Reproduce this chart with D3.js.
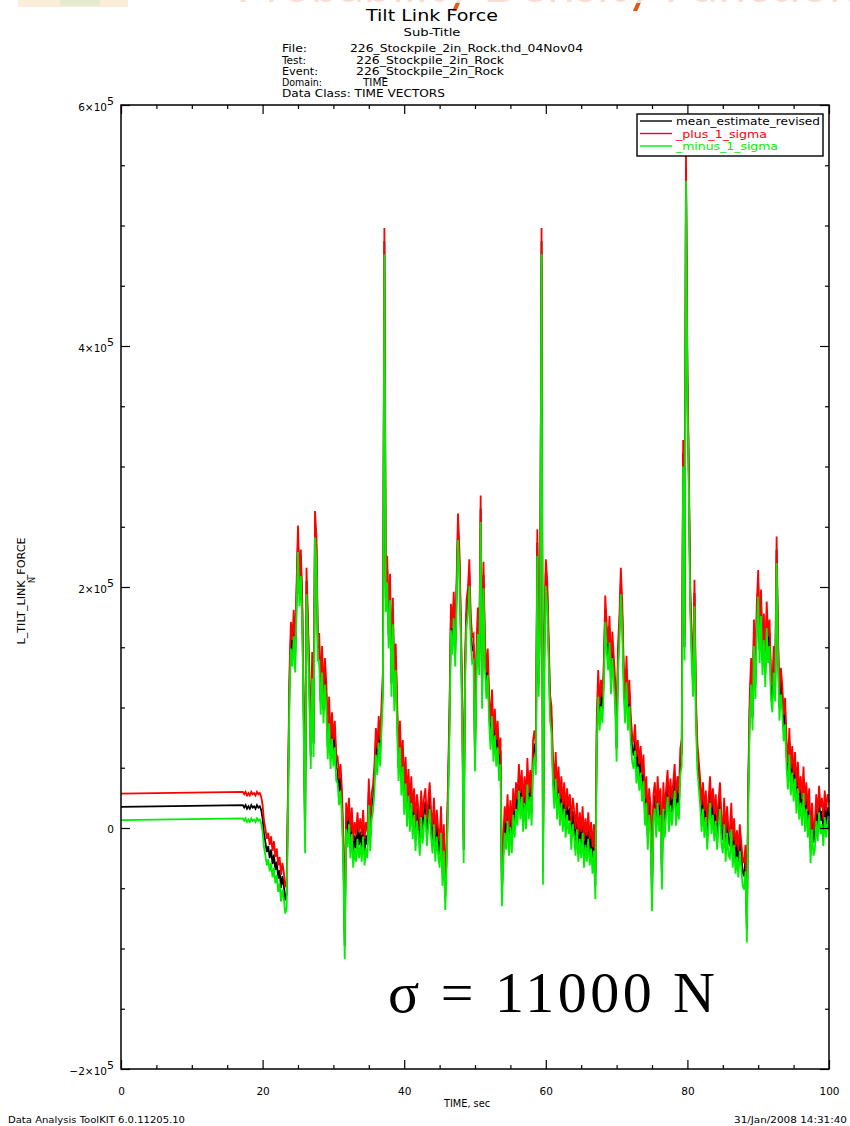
<!DOCTYPE html>
<html>
<head>
<meta charset="utf-8">
<script src="https://cdn.jsdelivr.net/npm/d3@7"></script>
<style>
  body { margin: 0; background: #fff; }
  svg { display: block; }
  text { font-family: "DejaVu Sans", "Liberation Sans", sans-serif; fill: #000; }
</style>
</head>
<body>
<svg id="chart" width="850" height="1126"></svg>
<script>
// ---- data -------------------------------------------------------------
// steady pre-load section before the tilt cycles begin
const quietSpan = [0, 17.2];          // seconds
const quietLevelKN = 17.5;            // kN
// sampled section, one value every 0.2 s from 17.2 s to 100 s (kN)
const sampleStart = 17.2;
const sampleStep = 0.2;
const meanForceKN = [
  19, 17, 19, 16,
  18, 16, 19, 17, 18,     16, 19, 17, 18, 15,
  8, -5, -12, -20, -15,   -25, -18, -30, -22, -35,
  -28, -42, -35, -50, -40, -48, -60, -55, 30, 120,
  160, 145, 170, 140, 192, 240, 195, 220, 180, 95,
  -10, 205, 165, 120, 60, 135, 70, 252, 232, 150,
  150, 105, 140, 98, 130, 110, 68, 98, 60, 85,
  62, 78, 50, 48, 30,     42, 22, -18, -98, 10,
  -5, 14, -14, 6, -22,    -6, -17, 2, -14, -3,
  -17, 4, -20, -6, -14,   30, -8, 18, 25, 42,
  72, 55, 82, 62, 92,     120, 487, 190, 215, 160,
  200, 120, 180, 108, 142, 95, 50, 78, 38, 62,
  22, 48, 12, 38, 8,      32, 2, 22, -8, 17,
  6, -12, 20, -2, 14,     22, -4, 12, 27, 3,
  -10, 14, -17, 4, -12,   -22, 7, -37, -8, -57,
  -20, 30, 90, 175, 155,  185, 145, 195, 250, 220,
  165, 95, -18, 130, 178, 188, 212, 165, 148, 150,
  58, 135, 172, 138, 265, 110, 210, 145, 118, 138,
  98, 76, 104, 66, 88,    62, 78, 50, 64, -54,
  -18, 7, -7, 17, -12,    12, -10, 22, 3, 27,
  13, 42, 18, 37, 8,      32, 10, 47, 18, 37,
  13, 62, 70, 55, 237,    120, 180, 487, -36, 150,
  212, 195, 150, 100, 90, 48, 27, 52, 18, 40,
  13, 32, 8, 27, 3,       22, 6, 17, -7, 14,
  4, -12, 10, -17, 2,     -14, 7, -22, -3, -17,
  2, -20, -6, -27, -8,    -48, 80, 120, 92, 112,
  98, 128, 182, 158, 142, 165, 122, 152, 132, 112,
  66, 140, 165, 205, 175, 125, 98, 132, 92, 112,
  82, 66, 60, 75, 48,     62, 42, 57, 33, 50,
  13, 32, -7, 22, 8,      -58, 17, 27, 3, 32,
  8, 22, -40, 27, 3,      22, 37, 8, 30, 13,
  27, 42, 13, 32, 18,     55, 63, 311, 150, 548,
  372, 290, 190, 150, 120, 195, 99, 60, 45, 30,
  8, 27, 3, 20, -7,       14, 32, 6, 22, 0,
  17, -7, 12, 27, -2,     -10, 14, -17, 7, -12,
  -14, 10, -22, -3, -27,  -13, -30, -8, -22, -37,
  -40, -25, -84, 30, 98,  130, 92, 162, 118, 175,
  203, 148, 187, 138, 167, 128, 177, 148, 162, 118,
  107, 140, 116, 231, 150, 100, 122, 108, 83, 97,
  62, 43, 72, 38, 57,     33, 52, 23, 44, 18,
  32, 13, 40, 8, 27,      3, 22, -18, 10, -12,
  -7, 17, 0, 24, 6,       14, -4, 20, 3, 17,
  10
];
const sigmaN = 11000;                 // one standard deviation, N

const seriesNames = ["mean_estimate_revised", "_plus_1_sigma", "_minus_1_sigma"];
const seriesColors = ["#000000", "#ff0000", "#00ee00"];
const xDomain = [0, 100];
const yDomain = [-200000, 600000];
const xMajorTicks = [0, 20, 40, 60, 80, 100];
const xTickLabels = ["0", "20", "40", "60", "80", "100"];
const yMajorTicks = [-200000, 0, 200000, 400000, 600000];
const yTickMantissa = ["\u22122", "0", "2", "4", "6"];
const headerLabels = ["File:", "Test:", "Event:", "Domain:", "Data Class:"];
const headerValues = ["226_Stockpile_2in_Rock.thd_04Nov04", "226_Stockpile_2in_Rock",
                      "226_Stockpile_2in_Rock", "TIME", "TIME VECTORS"];

// ---- build series -------------------------------------------------------
const meanSeries = [{ t: quietSpan[0], v: quietLevelKN * 1000 }]
  .concat(meanForceKN.map((kn, i) => ({ t: sampleStart + i * sampleStep, v: kn * 1000 })));
const plusSeries = meanSeries.map(d => ({ t: d.t, v: d.v + sigmaN }));
const minusSeries = meanSeries.map(d => ({ t: d.t, v: d.v - sigmaN }));

// ---- layout ---------------------------------------------------------------
const svg = d3.select("#chart");
const plot = { left: 121, right: 829, top: 105, bottom: 1069 };
const x = d3.scaleLinear().domain(xDomain).range([plot.left, plot.right]);
const y = d3.scaleLinear().domain(yDomain).range([plot.bottom, plot.top]);

// faded slide heading running off the top edge
const head = svg.append("g");
head.append("rect").attr("x", 18).attr("y", 0).attr("width", 110).attr("height", 7)
  .attr("fill", "#f3d9b0").attr("opacity", 0.45);
head.append("rect").attr("x", 60).attr("y", 0).attr("width", 40).attr("height", 6)
  .attr("fill", "#cfe6c0").attr("opacity", 0.45);
head.append("text").attr("x", 236).attr("y", 2)
  .style("font-family", "Lato, 'Open Sans', sans-serif").style("font-size", "50px")
  .style("fill", "#e2571c").text("Probability Density Function");
head.append("rect").attr("x", 200).attr("y", 0).attr("width", 650).attr("height", 3)
  .attr("fill", "#fff").attr("opacity", 0.8);

// titles
svg.append("text").attr("x", 432).attr("y", 21).attr("text-anchor", "middle")
  .style("font-size", "16px").attr("textLength", 132).attr("lengthAdjust", "spacingAndGlyphs")
  .text("Tilt Link Force");
svg.append("text").attr("x", 432).attr("y", 36).attr("text-anchor", "middle")
  .style("font-size", "10.5px").attr("textLength", 57).attr("lengthAdjust", "spacingAndGlyphs")
  .text("Sub-Title");

const headerRows = [48, 59.5, 70.5, 81.5, 93];
const labelWidths = [25, 24, 36, 40, 163];
const valueX = [350, 356, 356, 363, null];
const valueWidths = [233, 148, 148, 25, null];
headerLabels.forEach((lab, i) => {
  const cy = headerRows[i] + 4;
  if (valueX[i] === null) {
    svg.append("text").attr("x", 282).attr("y", cy).style("font-size", "10.5px")
      .attr("textLength", labelWidths[i]).attr("lengthAdjust", "spacingAndGlyphs")
      .text(lab + " " + headerValues[i]);
  } else {
    svg.append("text").attr("x", 282).attr("y", cy).style("font-size", "10.5px")
      .attr("textLength", labelWidths[i]).attr("lengthAdjust", "spacingAndGlyphs").text(lab);
    svg.append("text").attr("x", valueX[i]).attr("y", cy).style("font-size", "10.5px")
      .attr("textLength", valueWidths[i]).attr("lengthAdjust", "spacingAndGlyphs")
      .text(headerValues[i]);
  }
});

// ---- data lines (plotted in legend order: mean, then +1σ, then −1σ) -------
const line = d3.line().x(d => x(d.t)).y(d => y(d.v));
const drawOrder = [
  { data: meanSeries, color: seriesColors[0] },
  { data: plusSeries, color: seriesColors[1] },
  { data: minusSeries, color: seriesColors[2] }
];
drawOrder.forEach(s => {
  svg.append("path").datum(s.data).attr("d", line)
    .attr("fill", "none").attr("stroke", s.color).attr("stroke-width", 1.8)
    .attr("stroke-linejoin", "miter");
});

// ---- axes -------------------------------------------------------------------
const xMinor = d3.range(0, 101, 5).filter(v => v % 20 !== 0);
const yMinor = d3.range(-200000, 600001, 50000).filter(v => v % 200000 !== 0);

function addAxis(axis, transform) {
  const g = svg.append("g").attr("transform", transform).call(axis);
  g.select(".domain").remove();
  g.selectAll("line").attr("stroke", "#000").attr("stroke-width", 1.2);
  return g;
}
// bottom (with labels) and top
addAxis(d3.axisBottom(x).tickValues(xMinor).tickSize(-4).tickFormat(""), `translate(0,${plot.bottom})`);
const xb = addAxis(d3.axisBottom(x).tickValues(xMajorTicks).tickSize(-9).tickPadding(19)
  .tickFormat((d, i) => xTickLabels[i]), `translate(0,${plot.bottom})`);
xb.selectAll("text").style("font-size", "10.5px").style("font-family", "'DejaVu Sans', sans-serif");
addAxis(d3.axisTop(x).tickValues(xMinor).tickSize(-4).tickFormat(""), `translate(0,${plot.top})`);
addAxis(d3.axisTop(x).tickValues(xMajorTicks).tickSize(-9).tickFormat(""), `translate(0,${plot.top})`);
// left and right
addAxis(d3.axisLeft(y).tickValues(yMinor).tickSize(-4).tickFormat(""), `translate(${plot.left},0)`);
addAxis(d3.axisLeft(y).tickValues(yMajorTicks).tickSize(-9).tickFormat(""), `translate(${plot.left},0)`);
addAxis(d3.axisRight(y).tickValues(yMinor).tickSize(-4).tickFormat(""), `translate(${plot.right},0)`);
addAxis(d3.axisRight(y).tickValues(yMajorTicks).tickSize(-9).tickFormat(""), `translate(${plot.right},0)`);

// y tick labels, written as mantissa×10 with a superscript exponent
yMajorTicks.forEach((v, i) => {
  const t = svg.append("text").attr("x", 114).attr("y", y(v) + 6)
    .attr("text-anchor", "end").style("font-size", "10.5px");
  if (v === 0) { t.attr("y", y(v) + 5).text("0"); return; }
  t.append("tspan").text(yTickMantissa[i] + "\u00d710");
  t.append("tspan").attr("dy", -6).style("font-size", "11px").text("5");
});

// frame
svg.append("rect").attr("x", plot.left).attr("y", plot.top)
  .attr("width", plot.right - plot.left).attr("height", plot.bottom - plot.top)
  .attr("fill", "none").attr("stroke", "#000").attr("stroke-width", 1.5);

// axis titles
svg.append("text").attr("x", 467).attr("y", 1107).attr("text-anchor", "middle")
  .style("font-size", "10px").attr("textLength", 46).attr("lengthAdjust", "spacingAndGlyphs")
  .text("TIME, sec");
const yt = svg.append("g").attr("transform", "translate(25,591) rotate(-90)");
yt.append("text").attr("text-anchor", "middle").style("font-size", "10px")
  .attr("textLength", 107).attr("lengthAdjust", "spacingAndGlyphs").text("L_TILT_LINK_FORCE");
yt.append("text").attr("x", 8).attr("y", 10).style("font-size", "8px").text("N");

// legend
const lg = { x: 637, y: 114, w: 186, h: 42 };
svg.append("rect").attr("x", lg.x).attr("y", lg.y).attr("width", lg.w).attr("height", lg.h)
  .attr("fill", "#fff").attr("stroke", "#000").attr("stroke-width", 1.4);
const legendRows = [121, 133.5, 146];
const legendWidths = [144, 91, 102];
seriesNames.forEach((name, i) => {
  svg.append("line").attr("x1", 640).attr("x2", 672)
    .attr("y1", legendRows[i]).attr("y2", legendRows[i])
    .attr("stroke", seriesColors[i]).attr("stroke-width", 1.4);
  svg.append("text").attr("x", 676).attr("y", legendRows[i] + 4)
    .style("font-size", "10.5px").style("fill", seriesColors[i])
    .attr("textLength", legendWidths[i]).attr("lengthAdjust", "spacingAndGlyphs")
    .text(name);
});

// sigma annotation
svg.append("text").attr("x", 388).attr("y", 1012)
  .style("font-family", "'Liberation Serif', 'Times New Roman', serif")
  .style("font-size", "58px").attr("textLength", 327).attr("lengthAdjust", "spacing")
  .text("\u03c3 = 11000 N");

// footer
svg.append("text").attr("x", 8).attr("y", 1123).style("font-size", "8.5px")
  .attr("textLength", 177).attr("lengthAdjust", "spacingAndGlyphs")
  .text("Data Analysis ToolKIT 6.0.11205.10");
svg.append("text").attr("x", 847).attr("y", 1123).attr("text-anchor", "end")
  .style("font-size", "8.5px").attr("textLength", 113).attr("lengthAdjust", "spacingAndGlyphs")
  .text("31/Jan/2008 14:31:40");
</script>
</body>
</html>
